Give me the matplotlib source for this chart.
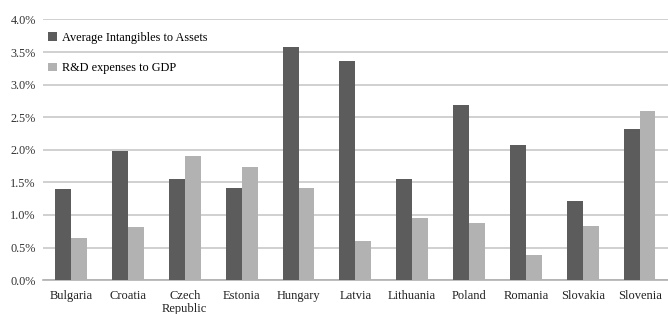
import numpy as np
import matplotlib.pyplot as plt
from matplotlib.ticker import FuncFormatter

countries = ["Bulgaria", "Croatia", "Czech\nRepublic", "Estonia", "Hungary", "Latvia",
             "Lithuania", "Poland", "Romania", "Slovakia", "Slovenia"]
intangibles = [1.40, 1.98, 1.55, 1.41, 3.58, 3.36, 1.55, 2.69, 2.07, 1.21, 2.32]
rd_gdp = [0.65, 0.81, 1.91, 1.74, 1.41, 0.60, 0.95, 0.87, 0.39, 0.83, 2.59]

plt.rcParams["font.family"] = ["Liberation Serif", "DejaVu Serif"]

fig = plt.figure(figsize=(6.68, 3.14), dpi=100)
ax = fig.add_axes([0.064, 0.108, 0.936, 0.83])

x = np.arange(len(countries))
w = 0.28
ax.bar(x - w / 2, intangibles, w, color="#5c5c5c", label="Average Intangibles to Assets", zorder=3)
ax.bar(x + w / 2, rd_gdp, w, color="#b2b2b2", label="R&D expenses to GDP", zorder=3)

ax.set_xlim(-0.5, len(countries) - 0.5)
ax.set_ylim(0, 4.0)
ax.set_yticks(np.arange(0, 4.01, 0.5))
ax.yaxis.set_major_formatter(FuncFormatter(lambda v, p: f"{v:.1f}%"))
ax.set_xticks(x)
ax.set_xticklabels(countries, fontsize=9, linespacing=1.1)
ax.tick_params(axis="y", labelsize=8.8, length=0, pad=5, colors="#333333")
ax.tick_params(axis="x", length=0, pad=7, colors="#222222")
ax.grid(axis="y", color="#c8c8c8", linewidth=1.2, zorder=0)
for s in ["top", "right", "left"]:
    ax.spines[s].set_visible(False)
ax.spines["bottom"].set_color("#b0b0b0")
ax.spines["bottom"].set_linewidth(1.2)

ax.legend(loc="upper left", bbox_to_anchor=(-0.005, 0.985), frameon=False, fontsize=8.8,
          handlelength=0.7, handleheight=0.7, labelspacing=1.5, handletextpad=0.45,
          borderaxespad=0.3)

fig.savefig("out.png", dpi=100)
